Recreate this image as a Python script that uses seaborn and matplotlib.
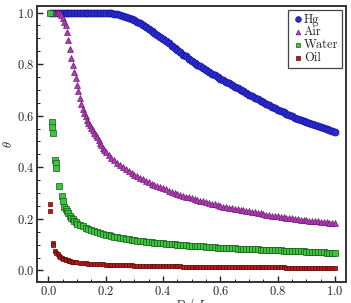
import seaborn as sns
import matplotlib.pyplot as plt
import pandas as pd
from matplotlib.ticker import MultipleLocator

# datos
x_hg = [round(0.01 * i, 2) for i in range(1, 101)]
y_hg = [1.0] * 21 + [
    0.998, 0.996, 0.993, 0.990, 0.987, 0.983, 0.979, 0.975, 0.970,
    0.964, 0.958, 0.952, 0.945, 0.938, 0.930, 0.922, 0.914, 0.905, 0.897,
    0.889, 0.880, 0.871, 0.862, 0.853, 0.845, 0.837, 0.830, 0.821, 0.813,
    0.805, 0.798, 0.791, 0.784, 0.777, 0.770, 0.763, 0.757, 0.750, 0.744,
    0.737, 0.731, 0.725, 0.718, 0.712, 0.706, 0.700, 0.694, 0.688, 0.682,
    0.676, 0.670, 0.664, 0.658, 0.652, 0.646, 0.640, 0.634, 0.628, 0.623,
    0.618, 0.613, 0.608, 0.603, 0.598, 0.593, 0.588, 0.584, 0.580, 0.576,
    0.572, 0.568, 0.564, 0.560, 0.556, 0.552, 0.548, 0.544, 0.540, 0.535]

x_air = [0.02, 0.025, 0.03, 0.035, 0.04, 0.045, 0.05, 0.055, 0.06, 0.065,
         0.07, 0.075, 0.08, 0.085, 0.09, 0.095, 0.10, 0.105, 0.11, 0.115,
         0.12, 0.125, 0.13, 0.135, 0.14, 0.145, 0.15, 0.155, 0.16, 0.165,
         0.17, 0.175, 0.18, 0.185, 0.19, 0.195, 0.20] + \
    [round(0.01 * i, 2) for i in range(21, 101)]
y_air = [1.0, 1.0, 1.0, 1.0, 1.0, 0.99, 0.978, 0.965, 0.95, 0.925,
         0.895, 0.86, 0.825, 0.795, 0.77, 0.745, 0.72, 0.695, 0.67, 0.647,
         0.627, 0.61, 0.597, 0.585, 0.573, 0.563, 0.553, 0.543, 0.534, 0.525,
         0.516, 0.506, 0.496, 0.486, 0.476, 0.467, 0.459,
         0.447, 0.437, 0.427, 0.417, 0.408, 0.400, 0.392, 0.385, 0.378, 0.371,
         0.365, 0.359, 0.353, 0.347, 0.342, 0.337, 0.332, 0.327, 0.322, 0.318,
         0.314, 0.310, 0.306, 0.302, 0.298, 0.294, 0.290, 0.286, 0.283, 0.280,
         0.277, 0.274, 0.271, 0.268, 0.265, 0.262, 0.259, 0.256, 0.253, 0.250,
         0.248, 0.246, 0.244, 0.242, 0.239, 0.237, 0.235, 0.233, 0.231, 0.229,
         0.227, 0.225, 0.223, 0.221, 0.219, 0.217, 0.215, 0.213, 0.212, 0.210,
         0.208, 0.206, 0.205, 0.203, 0.202, 0.200, 0.199, 0.197, 0.196, 0.195,
         0.193, 0.192, 0.191, 0.190, 0.189, 0.188, 0.187, 0.186, 0.185, 0.184]

x_water = [0.005, 0.013, 0.014, 0.015, 0.024, 0.025, 0.026, 0.037, 0.046,
           0.051, 0.056, 0.06, 0.065, 0.07, 0.075, 0.08, 0.085, 0.09, 0.095,
           0.10] + [round(0.01 * i, 2) for i in range(11, 101)]
y_water = [1.0, 0.577, 0.556, 0.533, 0.43, 0.415, 0.397, 0.326, 0.287,
           0.268, 0.248, 0.238, 0.23, 0.222, 0.213, 0.205, 0.198, 0.192, 0.187,
           0.182,
           0.176, 0.171, 0.166, 0.161, 0.157, 0.153, 0.149, 0.145, 0.142, 0.139,
           0.136, 0.133, 0.131, 0.129, 0.127, 0.125, 0.123, 0.121, 0.119, 0.118,
           0.116, 0.115, 0.113, 0.112, 0.111, 0.109, 0.108, 0.107, 0.106, 0.105,
           0.104, 0.103, 0.102, 0.101, 0.100, 0.099, 0.098, 0.097, 0.096, 0.096,
           0.095, 0.094, 0.093, 0.093, 0.092, 0.091, 0.091, 0.090, 0.089, 0.089,
           0.088, 0.088, 0.087, 0.086, 0.086, 0.085, 0.085, 0.084, 0.084, 0.083,
           0.083, 0.082, 0.082, 0.081, 0.081, 0.080, 0.080, 0.079, 0.079, 0.078,
           0.078, 0.077, 0.077, 0.076, 0.076, 0.075, 0.075, 0.074, 0.074, 0.073,
           0.073, 0.072, 0.072, 0.071, 0.071, 0.070, 0.069, 0.069, 0.068, 0.067]

x_oil = [0.005, 0.006, 0.015, 0.016, 0.022, 0.027, 0.032, 0.037, 0.042,
         0.047, 0.052, 0.057, 0.062, 0.067, 0.072, 0.077, 0.082, 0.087, 0.092,
         0.097] + [round(0.01 * i, 2) for i in range(11, 101)]
y_oil = [0.258, 0.232, 0.105, 0.10, 0.075, 0.068, 0.062, 0.057, 0.053,
         0.049, 0.046, 0.043, 0.041, 0.039, 0.037, 0.036, 0.034, 0.033, 0.032,
         0.031,
         0.030, 0.029, 0.028, 0.027, 0.026, 0.026, 0.025, 0.024, 0.024, 0.023,
         0.023, 0.022, 0.022, 0.021, 0.021, 0.021, 0.020, 0.020, 0.020, 0.019,
         0.019, 0.019, 0.018, 0.018, 0.018, 0.018, 0.017, 0.017, 0.017, 0.017,
         0.016, 0.016, 0.016, 0.016, 0.016, 0.016, 0.015, 0.015, 0.015, 0.015,
         0.015, 0.015, 0.015, 0.015, 0.014, 0.014, 0.014, 0.014, 0.014, 0.014,
         0.014, 0.014, 0.013, 0.013, 0.013, 0.013, 0.013, 0.013, 0.013, 0.013,
         0.013, 0.013, 0.012, 0.012, 0.012, 0.012, 0.012, 0.012, 0.012, 0.012,
         0.012, 0.012, 0.011, 0.011, 0.011, 0.011, 0.011, 0.011, 0.011, 0.011,
         0.010, 0.010, 0.010, 0.010, 0.010, 0.010, 0.009, 0.009, 0.009, 0.009]

series = [
    ("Hg", x_hg, y_hg, "o", "#2b2bd6", "#10108a", 26),
    ("Air", x_air, y_air, "^", "#b23cb8", "#6a1a70", 18),
    ("Water", x_water, y_water, "s", "#3ec43e", "#165a16", 14),
    ("Oil", x_oil, y_oil, "s", "#b81818", "#5a0808", 11),
]

sns.set_style("ticks")
plt.rcParams["font.family"] = "serif"
plt.rcParams["font.serif"] = ["cmr10", "DejaVu Serif"]
plt.rcParams["mathtext.fontset"] = "cm"
plt.rcParams["axes.formatter.use_mathtext"] = True

fig = plt.figure(figsize=(3.51, 3.03), dpi=100)
ax = fig.add_axes([0.105, 0.069, 0.881, 0.911])

for nombre, xs, ys, marca, color, borde, tam in series:
    df = pd.DataFrame({"x": xs, "y": ys})
    sns.scatterplot(data=df, x="x", y="y", ax=ax, marker=marca, color=color,
                    edgecolor=borde, linewidth=0.5, s=tam, label=nombre,
                    zorder=3)

ax.set_xlim(-0.04, 1.038)
ax.set_ylim(-0.045, 1.025)
ax.xaxis.set_major_locator(MultipleLocator(0.2))
ax.yaxis.set_major_locator(MultipleLocator(0.2))
ax.xaxis.set_minor_locator(MultipleLocator(0.05))
ax.yaxis.set_minor_locator(MultipleLocator(0.05))
ax.tick_params(which="major", direction="in", length=4, width=1,
               labelsize=9, color="#222222", pad=2)
ax.tick_params(which="minor", direction="in", length=2, width=0.7,
               color="#222222")
for lado in ax.spines.values():
    lado.set_linewidth(1.4)
    lado.set_color("#333333")

ax.set_xlabel(r"$D\ /\ L$", fontsize=9)
ax.xaxis.set_label_coords(0.5, -0.052)
ax.set_ylabel(r"$\theta$", fontsize=9, labelpad=1)

leg = ax.legend(loc="upper right", fontsize=9, frameon=True, fancybox=False,
                handletextpad=0.05, handlelength=0.9, borderpad=0.3,
                labelspacing=0.05, borderaxespad=0.3, markerscale=0.8,
                framealpha=1)
leg.get_frame().set_edgecolor("#444444")
leg.get_frame().set_linewidth(0.9)

plt.savefig("out.png", dpi=100)
